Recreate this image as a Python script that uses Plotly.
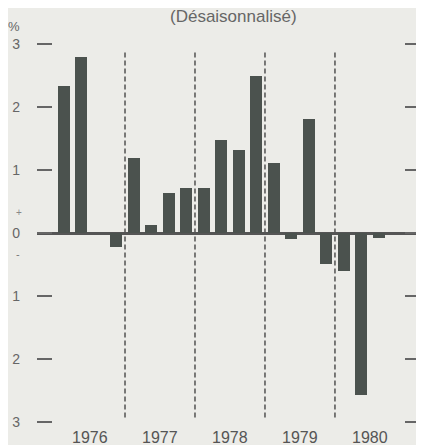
import plotly.graph_objects as go

years = [1976, 1977, 1978, 1979, 1980]
quarters = ["T1", "T2", "T3", "T4"]
values_1976 = [2.33, 2.80, 0.0, -0.22]
values_1977 = [1.20, 0.12, 0.63, 0.72]
values_1978 = [0.72, 1.48, 1.32, 2.50]
values_1979 = [1.11, -0.10, 1.82, -0.50]
values_1980 = [-0.61, -2.58, -0.08]
y_tickvals = [3, 2, 1, 0, -1, -2, -3]
y_ticktext = ["3", "2", "1", "0", "1", "2", "3"]
title_text = "(Désaisonnalisé)"
unit_text = "%"

series = [values_1976, values_1977, values_1978, values_1979, values_1980]
xs, ys = [], []
for i, vals in enumerate(series):
    for q, v in enumerate(vals):
        xs.append(i * 4 + q)
        ys.append(v)

bg = "#ecece8"
bar_col = "#4b524e"
font = "Liberation Sans, Arial, sans-serif"

fig = go.Figure()
fig.add_trace(go.Bar(x=xs, y=ys, width=0.68, marker=dict(color=bar_col, line=dict(width=0)),
                     showlegend=False))

shapes = []
for i in range(1, len(years)):
    bx = i * 4 - 0.5
    shapes.append(dict(type="line", xref="x", yref="y", x0=bx, x1=bx, y0=2.87, y1=-2.94,
                       line=dict(color="#3a3a3a", width=1.3, dash="5px,3px"), layer="below"))

annotations = [
    dict(text=title_text, xref="paper", yref="paper", x=0.512, y=1.0, yshift=22, showarrow=False,
         font=dict(size=17, color="#666", family=font), xanchor="center", yanchor="middle"),
    dict(text=unit_text, xref="paper", yref="paper", x=0, xshift=-23, y=1.0, yshift=12,
         showarrow=False, xanchor="center", yanchor="middle",
         font=dict(size=13, color="#666", family=font)),
    dict(text="+", xref="paper", yref="y", x=0, xshift=-23, y=0.33, showarrow=False,
         font=dict(size=10, color="#888", family=font)),
    dict(text="-", xref="paper", yref="y", x=0, xshift=-23, y=-0.33, showarrow=False,
         font=dict(size=11, color="#777", family=font)),
]
for i, yr in enumerate(years):
    annotations.append(dict(text=str(yr), xref="x", yref="paper", x=i * 4 + 1.5, y=0, yshift=-9,
                            showarrow=False, xanchor="center", yanchor="middle",
                            font=dict(size=16, color="#555", family=font)))

fig.update_layout(
    width=416, height=437,
    margin=dict(l=29, r=4, t=30, b=17, autoexpand=False),
    paper_bgcolor=bg, plot_bgcolor=bg,
    bargap=0,
    shapes=shapes,
    annotations=annotations,
    xaxis=dict(range=[-1.53, 20.36], showgrid=False, zeroline=False, showline=False,
               automargin=False, showticklabels=False, ticks=""),
    yaxis=dict(range=[-3.1, 3.1], showgrid=False, zeroline=True, zerolinecolor="#555",
               automargin=False,
               zerolinewidth=3, showline=False, tickvals=y_tickvals, ticktext=y_ticktext,
               ticks="inside", ticklen=15, tickwidth=1.5, tickcolor="#666", mirror="ticks",
               tickfont=dict(size=14, color="#666", family=font), ticklabelstandoff=16),
)

fig.write_html("out.html")
